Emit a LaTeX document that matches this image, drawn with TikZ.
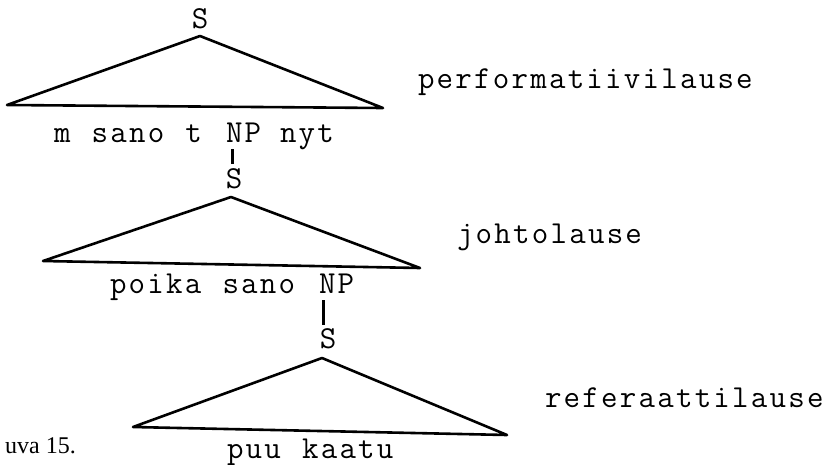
\documentclass[tikz,border=0pt]{standalone}
\usepackage{fontspec}
\setmainfont{Liberation Serif}
\newfontfamily\typewr{Latin Modern Mono}[LetterSpace=7,WordSpace=1.13]
\begin{document}
\begin{tikzpicture}[x=1pt,y=-1pt,
  tw/.style={inner sep=0pt, outer sep=0pt, anchor=base west,
    font=\typewr\fontsize{32}{38}\selectfont},
  sym/.style={inner sep=0pt, outer sep=0pt, anchor=base,
    font=\typewr\fontsize{32}{38}\selectfont},
  tri/.style={line width=2.6pt, line join=round, line cap=round},
  bar/.style={line width=3pt}]
\useasboundingbox (0,0) rectangle (832,464);

% top sentence: performative clause
\node[sym] (s1) at (200,28) {S};
\draw[tri] (200,36) -- (7,105) -- (383,108) -- cycle;
\node[tw] (l1a) at (54,142) {m sano t};
\node[tw] (np1) at (226,142) {NP};
\node[tw] (l1c) at (280,142) {nyt};
\node[tw] (lab1) at (418,88) {performatiivilause};

% middle sentence: main clause
\node[sym] (s2) at (234,188) {S};
\draw[tri] (231,197) -- (43,261) -- (420,268) -- cycle;
\node[tw] (l2a) at (110,293) {poika sano};
\node[tw] (np2) at (319,293) {NP};
\node[tw] (lab2) at (457,243) {johtolause};

% bottom sentence: reported clause
\node[sym] (s3) at (328,348) {S};
\draw[tri] (322,358) -- (133,427) -- (507,435) -- cycle;
\node[tw] (l3) at (227,458) {puu kaatu};
\node[tw] (lab3) at (545,407) {referaattilause};

% NP dominates the embedded S
\draw[bar] (np1.south west) ++(6,7) coordinate (b1a) -- ([yshift=4pt]b1a |- s2.north);
\draw[bar] (np2.south west) ++(4,7) coordinate (b2a) -- ([yshift=3pt]b2a |- s3.north);

% figure caption
\node[inner sep=0pt, anchor=base east, font=\fontsize{24}{28}\selectfont] (cap) at (76,453) {uva 15.};
\end{tikzpicture}
\end{document}
